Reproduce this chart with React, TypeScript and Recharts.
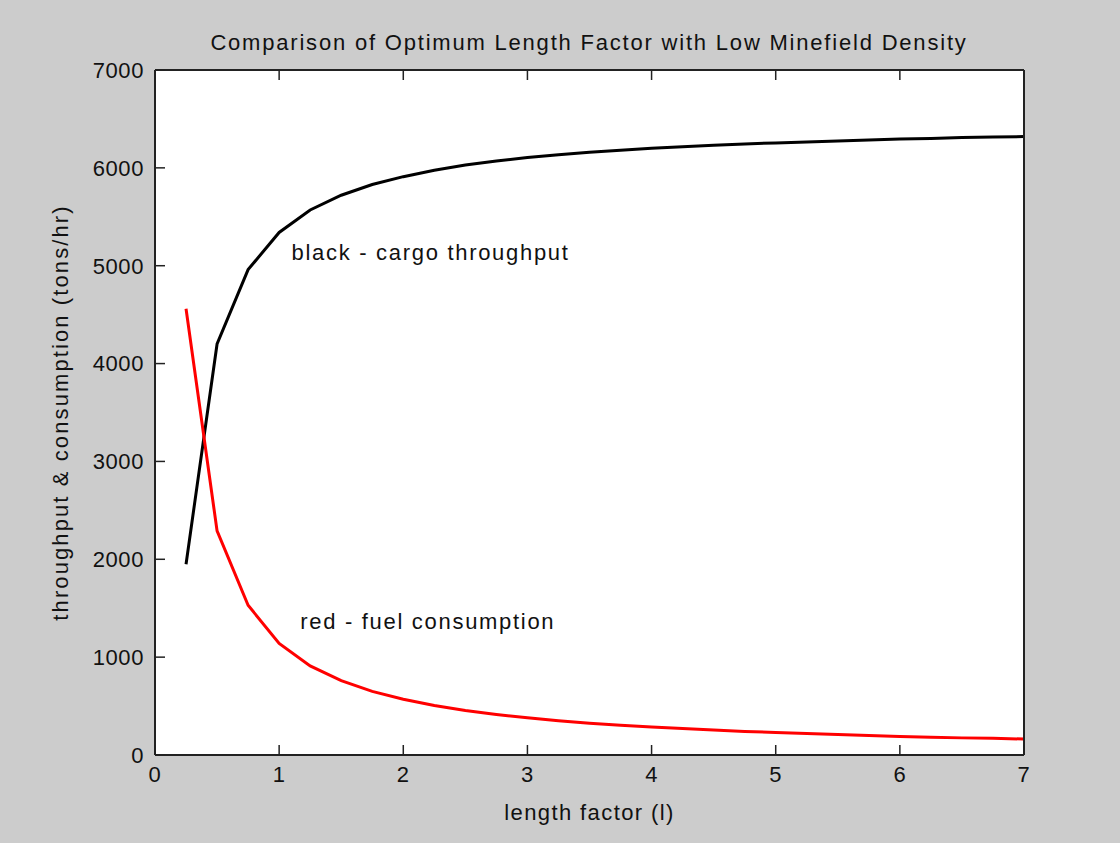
import React from 'react';
import { LineChart, Line, XAxis, YAxis, ReferenceDot } from 'recharts';

const lengthFactor = [0.25, 0.5, 0.75, 1, 1.25, 1.5, 1.75, 2, 2.25, 2.5, 2.75, 3, 3.25, 3.5, 3.75, 4, 4.25, 4.5, 4.75, 5, 5.25, 5.5, 5.75, 6, 6.25, 6.5, 6.75, 7];
const cargoThroughput = [1950, 4200, 4960, 5340, 5570, 5720, 5830, 5910, 5975, 6030, 6070, 6105, 6135, 6160, 6180, 6200, 6215, 6230, 6245, 6255, 6265, 6275, 6285, 6295, 6300, 6310, 6315, 6320];
const fuelConsumption = [4560, 2290, 1530, 1140, 910, 760, 650, 570, 505, 455, 415, 380, 350, 325, 305, 285, 270, 255, 240, 230, 220, 210, 200, 190, 182, 175, 170, 163];
const xTicks = [0, 1, 2, 3, 4, 5, 6, 7];
const yTicks = [0, 1000, 2000, 3000, 4000, 5000, 6000, 7000];

const title = 'Comparison of Optimum Length Factor with Low Minefield Density';
const xLabel = 'length factor (l)';
const yLabel = 'throughput & consumption (tons/hr)';
const cargoNote = 'black - cargo throughput';
const fuelNote = 'red - fuel consumption';

const data = lengthFactor.map((l, i) => ({ l, cargo: cargoThroughput[i], fuel: fuelConsumption[i] }));

const FONT = '"Liberation Sans", Arial, sans-serif';
const TXT = '#111';
const AX = '#222';
const MARGIN = 11;
const TICK_LEN = 10;
const textStyle = { fontSize: 22, fill: TXT, fontFamily: FONT, letterSpacing: 0.6 };
const axisLine = { stroke: AX, strokeWidth: 2 };

const BottomTick = (p: any) => {
  const axisY = p.y - MARGIN;
  return (
    <g>
      <line x1={p.x} x2={p.x} y1={axisY} y2={axisY - TICK_LEN} stroke={AX} strokeWidth={1.5} />
      <text x={p.x} y={p.y} dy="0.71em" textAnchor="middle" style={textStyle}>{p.payload.value}</text>
    </g>
  );
};
const LeftTick = (p: any) => {
  const axisX = p.x + MARGIN;
  return (
    <g>
      <line x1={axisX} x2={axisX + TICK_LEN} y1={p.y} y2={p.y} stroke={AX} strokeWidth={1.5} />
      <text x={p.x} y={p.y} dy="0.355em" textAnchor="end" style={textStyle}>{p.payload.value}</text>
    </g>
  );
};
const TopTick = (p: any) => (
  <line x1={p.x} x2={p.x} y1={p.y} y2={p.y + TICK_LEN} stroke={AX} strokeWidth={1.5} />
);
const RightTick = (p: any) => (
  <line x1={p.x} x2={p.x - TICK_LEN} y1={p.y} y2={p.y} stroke={AX} strokeWidth={1.5} />
);

export default function App() {
  return (
    <div style={{ position: 'absolute', left: 0, top: 0, width: 1120, height: 843, background: '#cccccc', fontFamily: FONT }}>
      <div style={{ position: 'absolute', left: 154, width: 870, top: 30, textAlign: 'center', fontSize: 22, letterSpacing: 1.8, color: TXT, whiteSpace: 'nowrap' }}>{title}</div>
      <LineChart width={1120} height={843} data={data} margin={{ top: 69, right: 95, left: 75, bottom: 28 }}>
        <rect x={155} y={70} width={869} height={685} fill="#fff" />
        <XAxis xAxisId="b" dataKey="l" type="number" domain={[0, 7]} ticks={xTicks} height={60}
          axisLine={axisLine} tickLine={false} tickSize={0} tickMargin={MARGIN} tick={BottomTick} interval={0}
          label={{ value: xLabel, position: 'insideBottom', offset: -5, style: { fontSize: 22, letterSpacing: 1.4, fill: TXT, fontFamily: FONT } }} />
        <XAxis xAxisId="t" dataKey="l" type="number" domain={[0, 7]} ticks={xTicks} orientation="top" height={1}
          axisLine={axisLine} tickLine={false} tickSize={0} tickMargin={0} tick={TopTick} interval={0} />
        <YAxis yAxisId="l" type="number" domain={[0, 7000]} ticks={yTicks} width={80}
          axisLine={axisLine} tickLine={false} tickSize={0} tickMargin={MARGIN} tick={LeftTick} interval={0}
          label={{ value: yLabel, angle: -90, position: 'insideLeft', offset: -15, style: { fontSize: 22, letterSpacing: 2.1, fill: TXT, fontFamily: FONT, textAnchor: 'middle' } }} />
        <YAxis yAxisId="r" type="number" domain={[0, 7000]} ticks={yTicks} orientation="right" width={1}
          axisLine={axisLine} tickLine={false} tickSize={0} tickMargin={0} tick={RightTick} interval={0} />
        <Line xAxisId="b" yAxisId="l" dataKey="cargo" stroke="#000" strokeWidth={3} dot={false} isAnimationActive={false} type="linear" />
        <Line xAxisId="b" yAxisId="l" dataKey="fuel" stroke="#ff0000" strokeWidth={3} dot={false} isAnimationActive={false} type="linear" />
        <ReferenceDot xAxisId="b" yAxisId="l" x={1.1} y={5140} r={0} fill="none" stroke="none"
          label={{ value: cargoNote, position: 'right', offset: 0, style: { fontSize: 22, letterSpacing: 1.7, fill: TXT, fontFamily: FONT } }} />
        <ReferenceDot xAxisId="b" yAxisId="l" x={1.17} y={1370} r={0} fill="none" stroke="none"
          label={{ value: fuelNote, position: 'right', offset: 0, style: { fontSize: 22, letterSpacing: 1.7, fill: TXT, fontFamily: FONT } }} />
      </LineChart>
    </div>
  );
}
